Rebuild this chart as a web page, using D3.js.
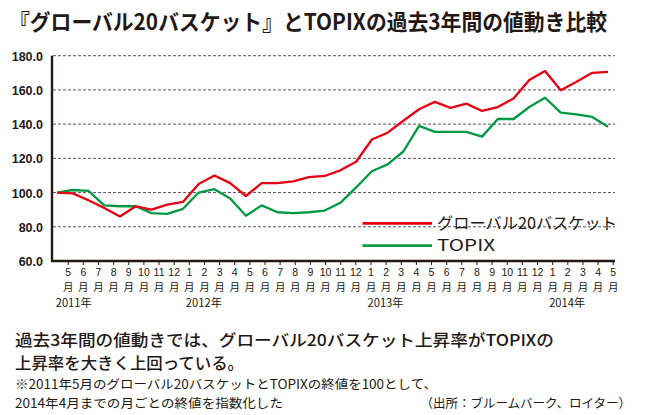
<!DOCTYPE html>
<html><head><meta charset="utf-8">
<script src="https://cdn.jsdelivr.net/npm/d3@7"></script>
<style>body{margin:0;background:#fff}svg{display:block}</style></head>
<body><svg id="c" width="646" height="415"></svg>
<script>
const titleText = "『グローバル20バスケット』とTOPIXの過去3年間の値動き比較";
const seriesNames = ["グローバル20バスケット", "TOPIX"];
const basket = [100, 99.5, 95.5, 91, 86, 92, 90, 93, 94.5, 105, 110, 105.5, 98, 105.5, 105.5, 106.5, 109, 109.7, 113, 118,
  131, 135, 142, 148.7, 153, 149.5, 152, 147.7, 150, 155, 165.8, 171, 159.8, 164.8, 170, 170.5];
const topix = [100, 101.5, 101, 92.5, 92, 92, 88, 87.5, 90.5, 100, 102, 96.5, 86.5, 92.5, 88.5, 88, 88.5, 89.5, 94, 103,
  112.5, 116.5, 124, 139, 135.5, 135.5, 135.5, 132.7, 143, 143, 150, 155.4, 146.7, 145.7, 144.2, 138.5];
const monthLabels = ["5","6","7","8","9","10","11","12",
  "1","2","3","4","5","6","7","8","9","10","11","12",
  "1","2","3","4","5","6","7","8","9","10","11","12",
  "1","2","3","4","5"];
const yearLabels = ["2011年", "2012年", "2013年", "2014年"];
const yearTickIdx = [0, 8, 20, 32];
const yTicks = [60, 80, 100, 120, 140, 160, 180];
const bodyLines = ["過去3年間の値動きでは、グローバル20バスケット上昇率がTOPIXの", "上昇率を大きく上回っている。"];
const noteLines = ["※2011年5月のグローバル20バスケットとTOPIXの終値を100として、", "2014年4月までの月ごとの終値を指数化した"];
const sourceText = "（出所：ブルームバーク、ロイター）";

const RED = "#e60012", GREEN = "#009944", INK = "#231815";
const JP = "'Noto Sans CJK JP', sans-serif";
const LAT = "'Liberation Sans', Arial, sans-serif";
const svg = d3.select("#c");

const y = d3.scaleLinear().domain([60, 180]).range([261, 55.7]);
const xData = d3.scalePoint().domain(d3.range(basket.length)).range([57, 608]);
const xTick = d3.scalePoint().domain(d3.range(monthLabels.length)).range([67.7, 612.7]);

// title
svg.append("text").attr("x", 9).attr("y", 30).attr("font-family", JP).attr("font-weight", 700)
  .attr("font-size", 22).attr("fill", INK).attr("textLength", 598).attr("lengthAdjust", "spacingAndGlyphs").text(titleText);

// gridlines
svg.append("g").selectAll("line").data(yTicks.filter(d => d > 60)).join("line")
  .attr("x1", 53).attr("x2", 615).attr("y1", d => y(d)).attr("y2", d => y(d))
  .attr("stroke", "#555").attr("stroke-width", 1).attr("stroke-dasharray", "3,2");

// y axis labels
const yAxis = svg.append("g").attr("transform", "translate(52,0)")
  .call(d3.axisLeft(y).tickValues(yTicks).tickFormat(d3.format(".1f")).tickSize(0).tickPadding(9));
yAxis.select(".domain").remove();
yAxis.selectAll("text").attr("font-family", LAT).attr("font-weight", 700)
  .attr("font-size", 12.5).attr("fill", INK).attr("dy", "0.36em");

// x axis
const xAxis = svg.append("g").attr("transform", "translate(0,261)")
  .call(d3.axisBottom(xTick).tickSize(4).tickFormat(""));
xAxis.select(".domain").remove();
xAxis.selectAll(".tick line").attr("stroke", INK).attr("stroke-width", 1);
xAxis.selectAll(".tick").each(function(d) {
  const g = d3.select(this);
  g.append("text").attr("y", 15.3).attr("text-anchor", "middle").attr("font-family", LAT)
    .attr("font-size", 10.5).attr("fill", INK).text(monthLabels[d]);
  g.append("text").attr("y", 29.7).attr("text-anchor", "middle").attr("font-family", JP)
    .attr("font-size", 10.5).attr("fill", INK).text("月");
});
svg.append("g").selectAll("text").data(yearLabels).join("text")
  .attr("x", (d, i) => xTick(yearTickIdx[i]) - (i === 0 ? 12 : 3)).attr("y", 306.8)
  .attr("font-family", JP).attr("font-size", 11.2).attr("fill", INK).text(d => d);

// axis lines
svg.append("line").attr("x1", 52).attr("x2", 52).attr("y1", y(180)).attr("y2", 262)
  .attr("stroke", INK).attr("stroke-width", 2.4);
svg.append("line").attr("x1", 51).attr("x2", 615).attr("y1", 261).attr("y2", 261)
  .attr("stroke", INK).attr("stroke-width", 2.4);

// lines
const line = d3.line().x((d, i) => xData(i)).y(d => y(d));
svg.append("path").datum(topix).attr("d", line).attr("fill", "none").attr("stroke", GREEN)
  .attr("stroke-width", 2.3).attr("stroke-linejoin", "round");
svg.append("path").datum(basket).attr("d", line).attr("fill", "none").attr("stroke", RED)
  .attr("stroke-width", 2.3).attr("stroke-linejoin", "round");

// legend
const leg = svg.append("g");
[[RED, 223.3, 180], [GREEN, 245.7, 58]].forEach(([c, ly, w], i) => {
  leg.append("line").attr("x1", 362.5).attr("x2", 432).attr("y1", ly).attr("y2", ly)
    .attr("stroke", c).attr("stroke-width", 2.8);
  leg.append("text").attr("x", 437).attr("y", ly + 5.5).attr("font-family", JP).attr("font-size", 16)
    .attr("fill", INK).attr("textLength", w).attr("lengthAdjust", "spacingAndGlyphs").text(seriesNames[i]);
});

// body text
svg.append("g").selectAll("text").data(bodyLines).join("text")
  .attr("x", 15).attr("y", (d, i) => 345.8 + i * 23.6).attr("font-family", JP).attr("font-weight", 500)
  .attr("font-size", 16).attr("fill", INK)
  .attr("textLength", (d, i) => i === 0 ? 539 : 229).attr("lengthAdjust", "spacingAndGlyphs").text(d => d);
svg.append("g").selectAll("text").data(noteLines).join("text")
  .attr("x", 15).attr("y", (d, i) => 389.2 + i * 18.4).attr("font-family", JP)
  .attr("font-size", 12.5).attr("fill", INK)
  .attr("textLength", (d, i) => i === 0 ? 422 : 268).attr("lengthAdjust", "spacingAndGlyphs").text(d => d);
svg.append("text").attr("x", 631).attr("y", 407.6).attr("text-anchor", "end").attr("font-family", JP)
  .attr("font-size", 12.5).attr("fill", INK).text(sourceText);
</script></body></html>
